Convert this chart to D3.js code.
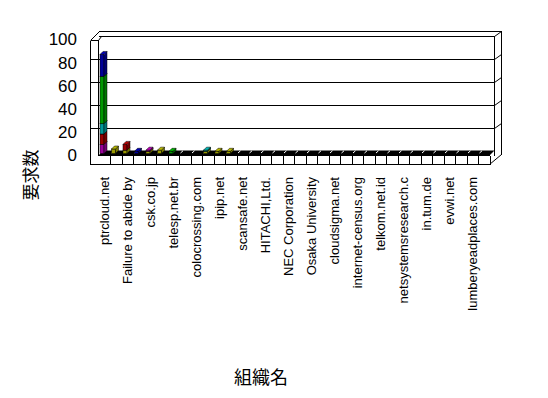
<!DOCTYPE html>
<html><head><meta charset="utf-8">
<script src="https://cdn.jsdelivr.net/npm/d3@7"></script>
<style>html,body{margin:0;padding:0;background:#fff;} svg{display:block;}</style>
</head><body>
<svg id="chart" width="548" height="398"></svg>
<script>
// ---- data ----
const categoryLabels = ["ptrcloud.net","Failure to abide by","csk.co.jp","telesp.net.br","colocrossing.com","ipip.net","scansafe.net","HITACHI,Ltd.","NEC Corporation","Osaka University","cloudsigma.net","internet-census.org","telkom.net.id","netsystemsresearch.c","in.tum.de","evwi.net","lumberyeadplaces.com"];
const categoryCount = 34;
const yTicks = [0,20,40,60,80,100];
const seriesNames = ["s1","s2","s3","s4","s5","s6"];
const seriesColors = ["#999900","#990099","#990000","#009999","#009900","#000099"];
const s1 = [0,4,3,0,2,3,0,0,0,2,2,2,0,0,0,0,0,0,0,0,0,0,0,0,0,0,0,0,0,0,0,0,0,0];
const s2 = [8,0,0,0,1,0,0,0,0,0,0,0,0,0,0,0,0,0,0,0,0,0,0,0,0,0,0,0,0,0,0,0,0,0];
const s3 = [9,0,5,0,0,0,0,0,0,0,0,0,0,0,0,0,0,0,0,0,0,0,0,0,0,0,0,0,0,0,0,0,0,0];
const s4 = [9,0,0,0,0,0,0,0,0,1,0,0,0,0,0,0,0,0,0,0,0,0,0,0,0,0,0,0,0,0,0,0,0,0];
const s5 = [41,0,0,0,0,0,2,0,0,0,0,0,0,0,0,0,0,0,0,0,0,0,0,0,0,0,0,0,0,0,0,0,0,0];
const s6 = [19,0,0,2,0,0,0,0,0,0,0,0,0,0,0,0,0,0,0,0,0,0,0,0,0,0,0,0,0,0,0,0,0,0];
const yTitle = "要求数";
const xTitle = "組織名";

// ---- build ----
const seriesValues = [s1,s2,s3,s4,s5,s6];
const table = d3.range(categoryCount).map(i => {
  const row = {idx:i};
  seriesNames.forEach((k,j) => row[k] = seriesValues[j][i]);
  return row;
});
const svg = d3.select("#chart");
const font = "'Liberation Sans', Arial, 'Noto Sans CJK JP', sans-serif";
const jfont = "'Noto Sans CJK JP', sans-serif";

const x = d3.scaleBand().domain(d3.range(categoryCount)).range([98.5, 489.5]).paddingInner(0).paddingOuter(0);
const yBack = d3.scaleLinear().domain([0,100]).range([151.3, 36]);
const yBar = d3.scaleLinear().domain([0,100]).range([153.6, 38.3]);
const yLab = d3.scaleLinear().domain([0,100]).range([154.8, 39.5]);

const g = svg.append("g").attr("shape-rendering","crispEdges");
const line = (x1,y1,x2,y2,c="#000") => g.append("line").attr("x1",x1).attr("y1",y1).attr("x2",x2).attr("y2",y2).attr("stroke",c).attr("stroke-width",1);
const geo = svg.append("g");
const dline = (x1,y1,x2,y2,c="#000") => geo.append("line").attr("x1",x1).attr("y1",y1).attr("x2",x2).attr("y2",y2).attr("stroke",c).attr("stroke-width",1);

const xL = 90.5, xLi = 98.5, xR = 494.5, xRb = 501.5, xFr = x.range()[1];
const topB = 31.5, floorTop = 155.5, floorBot = 164.5;

// back top and right
line(99, topB, xRb, topB);
line(xRb, topB, xRb, 154.5);
// top front (100 line) and gridlines
yTicks.filter(v => v > 0).forEach(v => {
  const yy = Math.round(yBack(v)) + 0.5;
  line(v === 100 ? xLi : xL, yy, xR, yy);
  dline(xR, yy, xRb, yy - 5);
});
line(xR, Math.round(yBack(100)) + 0.5, xR, floorTop);
// left wall
line(xL, 40.5, xL, floorBot);
line(xLi, 40.5, xLi, floorTop);
line(xL, 40.5, xLi, 40.5);
dline(xL, 40.5, 99.5, topB);
dline(xLi, 40.5, 101.5, 36.5);

// floor top (black)
geo.append("polygon")
  .attr("points", [[xLi,floorTop],[xFr,floorTop],[xR,150.5],[103,150.5]].map(p=>p.join(",")).join(" "))
  .attr("fill","#000");
// floor front face
line(xLi, floorTop, xFr, floorTop);
line(xL, floorBot, xFr, floorBot);
d3.range(categoryCount + 1).forEach(i => {
  const xx = Math.round(i < categoryCount ? x(i) : xFr) + 0.5;
  if (i > 0) line(xx, floorTop, xx, floorBot);
});
dline(xFr, floorBot, xRb, 154.5);

// white slashes on floor
geo.selectAll(".slash").data(d3.range(1, categoryCount)).join("line")
  .attr("x1", i => x(i) + 1.5).attr("y1", 153)
  .attr("x2", i => x(i) + 4).attr("y2", 150.8)
  .attr("stroke","#fff").attr("stroke-width",1);

// bars
const stack = d3.stack().keys(seriesNames)(table);
const bw = 4, ddx = 3, ddy = 3;
const darker = c => d3.color(c).darker(0.7).formatHex();
const brighter = c => d3.color(c).brighter(0.5).formatHex();
const bars = svg.append("g");
stack.forEach((layer, j) => {
  const col = seriesColors[j];
  layer.forEach((d, i) => {
    if (d[1] - d[0] <= 0) return;
    const bx = x(i) + 1.5;
    const y0 = yBar(d[0]), y1 = yBar(d[1]);
    bars.append("rect").attr("x", bx).attr("y", y1).attr("width", bw).attr("height", y0 - y1)
      .attr("fill", col).attr("stroke","#000").attr("stroke-width",0.5);
    bars.append("polygon")
      .attr("points", [[bx+bw,y0],[bx+bw+ddx,y0-ddy],[bx+bw+ddx,y1-ddy],[bx+bw,y1]].map(p=>p.join(",")).join(" "))
      .attr("fill", darker(col)).attr("stroke","#000").attr("stroke-width",0.5);
    bars.append("polygon")
      .attr("points", [[bx,y1],[bx+ddx,y1-ddy],[bx+bw+ddx,y1-ddy],[bx+bw,y1]].map(p=>p.join(",")).join(" "))
      .attr("fill", brighter(col)).attr("stroke","#000").attr("stroke-width",0.5);
  });
});

// y axis tick labels
const yAxis = d3.axisLeft(yLab).tickValues(yTicks).tickSize(0).tickPadding(0).tickFormat(d3.format("d"));
const ya = svg.append("g").attr("transform","translate(77,0)").call(yAxis);
ya.select(".domain").remove();
ya.selectAll("text").attr("font-family", font).attr("font-size", 17).attr("fill","#000");

// category labels
svg.append("g").selectAll("text").data(categoryLabels).join("text")
  .attr("transform", (d,k) => `translate(${x(2*k) + x.bandwidth()/2 + 0.5},177) rotate(-90)`)
  .attr("text-anchor","end").attr("dy","0.35em")
  .attr("font-family", font).attr("font-size", 13).attr("fill","#000")
  .text(d => d);

// axis titles
svg.append("text").attr("transform","translate(31,175) rotate(-90)")
  .attr("text-anchor","middle").attr("dy","0.35em")
  .attr("font-family", jfont).attr("font-size",17).text(yTitle);
svg.append("text").attr("x",261).attr("y",378)
  .attr("text-anchor","middle").attr("dy","0.35em")
  .attr("font-family", jfont).attr("font-size",18).text(xTitle);
</script>
</body></html>
